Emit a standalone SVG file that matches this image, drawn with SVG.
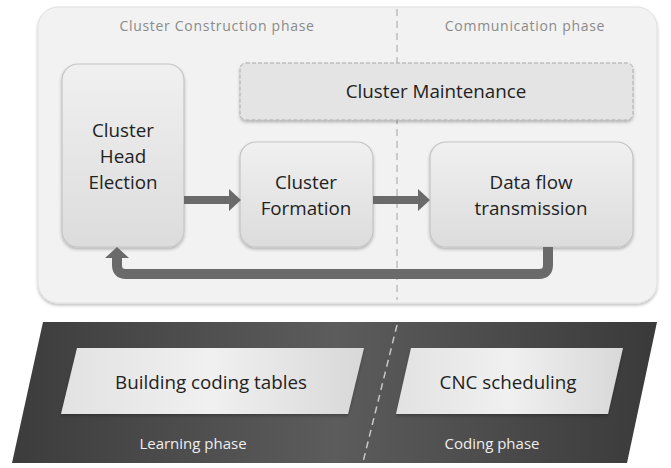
<svg xmlns="http://www.w3.org/2000/svg" width="671" height="468" viewBox="0 0 671 468">
<defs>
<style>
.lbl{font-family:"Open Sans","Liberation Sans","DejaVu Sans",sans-serif;fill:#222;text-anchor:middle}
.node{font-size:18.8px}
.phase{font-size:14px;fill:#8a8a8a;letter-spacing:0.7px}
.dark{font-size:15px;fill:#eee}
.box{fill:url(#gNode);stroke:#c4c4c4;stroke-width:1.2}
.arrow{fill:#6a6a6a}
</style>
<linearGradient id="gNode" x1="0" y1="0" x2="0" y2="1">
<stop offset="0" stop-color="#f0f0f0"/>
<stop offset="1" stop-color="#dcdcdc"/>
</linearGradient>
<linearGradient id="gDark" x1="0" y1="0" x2="1" y2="0">
<stop offset="0" stop-color="#3c3c3c"/>
<stop offset="0.5" stop-color="#5c5c5c"/>
<stop offset="1" stop-color="#3a3a3a"/>
</linearGradient>
<linearGradient id="gLight" x1="0" y1="0" x2="1" y2="0">
<stop offset="0" stop-color="#e2e2e2"/>
<stop offset="0.5" stop-color="#f0f0f0"/>
<stop offset="1" stop-color="#d8d8d8"/>
</linearGradient>
<filter id="sh" x="-10%" y="-10%" width="120%" height="130%">
<feDropShadow dx="0" dy="2" stdDeviation="1.5" flood-color="#000" flood-opacity="0.25"/>
</filter>
</defs>
<rect width="671" height="468" fill="#fff"/>

<g id="panel-top">
<rect x="38" y="7" width="619" height="296" rx="20" fill="#f2f2f2" stroke="#e0e0e0" stroke-width="1" filter="url(#sh)"/>
<line x1="397" y1="9" x2="397" y2="300" stroke="#b0b0b0" stroke-width="1.2" stroke-dasharray="7,5"/>
<text class="lbl phase" x="217" y="31">Cluster Construction phase</text>
<text class="lbl phase" x="525" y="31">Communication phase</text>
</g>

<g id="panel-bottom">
<polygon points="43,322 657,322 627,463 12,463" fill="url(#gDark)"/>
<line x1="397" y1="325" x2="363" y2="462" stroke="#c8c8c8" stroke-width="1.5" stroke-dasharray="7,5"/>
<text class="lbl dark" x="193" y="449">Learning phase</text>
<text class="lbl dark" x="492" y="449">Coding phase</text>
</g>

<g id="maintenance">
<rect x="240" y="63" width="393" height="57" rx="6" fill="#e4e4e4" stroke="#aaa" stroke-width="1" stroke-dasharray="4,2" filter="url(#sh)"/>
<text class="lbl node" x="436" y="98">Cluster Maintenance</text>
</g>

<g id="head-election">
<rect class="box" x="62" y="64" width="122" height="183" rx="16" filter="url(#sh)"/>
<text class="lbl node" x="123" y="137">Cluster</text>
<text class="lbl node" x="123" y="163">Head</text>
<text class="lbl node" x="123" y="189">Election</text>
</g>

<g id="formation">
<rect class="box" x="240" y="142" width="133" height="105" rx="16" filter="url(#sh)"/>
<text class="lbl node" x="306" y="189">Cluster</text>
<text class="lbl node" x="306" y="215">Formation</text>
</g>

<g id="dataflow">
<rect class="box" x="430" y="142" width="203" height="105" rx="16" filter="url(#sh)"/>
<text class="lbl node" x="531" y="189">Data flow</text>
<text class="lbl node" x="531" y="215">transmission</text>
</g>

<g id="coding-tables">
<polygon points="77,348 364,348 348,414 61,414" fill="url(#gLight)" filter="url(#sh)"/>
<text class="lbl node" x="211" y="389">Building coding tables</text>
</g>

<g id="cnc">
<polygon points="411,348 623,348 608,414 396,414" fill="url(#gLight)" filter="url(#sh)"/>
<text class="lbl node" x="508" y="389">CNC scheduling</text>
</g>

<g id="connectors">
<polygon class="arrow" points="184,196 229,196 229,189 241,200 229,211 229,204 184,204"/>
<polygon class="arrow" points="373,196 418,196 418,189 430,200 418,211 418,204 373,204"/>
<path d="M548,247 V265 Q548,274 539,274 H126 Q117,274 117,265 V256" fill="none" stroke="#6a6a6a" stroke-width="10"/>
<polygon class="arrow" points="105,258 117,247 129,258"/>
</g>
</svg>
